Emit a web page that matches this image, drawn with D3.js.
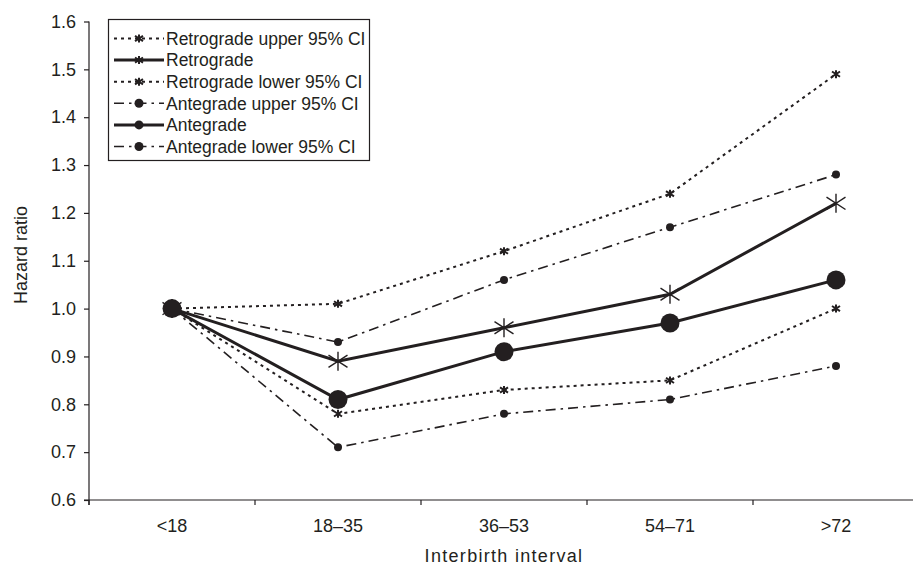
<!DOCTYPE html>
<html>
<head>
<meta charset="utf-8">
<script src="https://cdn.jsdelivr.net/npm/d3@7"></script>
<style>
  body { margin: 0; background: #fff; }
  text { font-family: "Liberation Sans", Arial, sans-serif; fill: #231f20; }
</style>
</head>
<body>
<div id="chart"></div>
<script>
// Data
let categories = ["<18", "18–35", "36–53", "54–71", ">72"];
let retroUpper = [1.00, 1.01, 1.12, 1.24, 1.49];
let retro      = [1.00, 0.89, 0.96, 1.03, 1.22];
let retroLower = [1.00, 0.78, 0.83, 0.85, 1.00];
let anteUpper  = [1.00, 0.93, 1.06, 1.17, 1.28];
let ante       = [1.00, 0.81, 0.91, 0.97, 1.06];
let anteLower  = [1.00, 0.71, 0.78, 0.81, 0.88];
let yTicks = [0.6, 0.7, 0.8, 0.9, 1.0, 1.1, 1.2, 1.3, 1.4, 1.5, 1.6];

let series = [
  { name: "Retrograde upper 95% CI", values: retroUpper, kind: "retroCI" },
  { name: "Retrograde", values: retro, kind: "retro" },
  { name: "Retrograde lower 95% CI", values: retroLower, kind: "retroCI" },
  { name: "Antegrade upper 95% CI", values: anteUpper, kind: "anteCI" },
  { name: "Antegrade", values: ante, kind: "ante" },
  { name: "Antegrade lower 95% CI", values: anteLower, kind: "anteCI" }
];

// styles per kind
let styles = {
  retroCI: { dash: "3,4", width: 2, marker: "star", size: 4, legendSize: 4 },
  retro:   { dash: null, width: 3, marker: "star", size: 9.5, legendSize: 4 },
  anteCI:  { dash: "10,5,2.5,5", width: 1.6, marker: "dot", size: 4, legendSize: 4.5 },
  ante:    { dash: null, width: 3, marker: "dot", size: 9.5, legendSize: 4.5 }
};

let ink = "#231f20";
let W = 913, H = 568;

let svg = d3.select("#chart").append("svg")
  .attr("width", W)
  .attr("height", H);

// Scales
let x = d3.scaleBand()
  .domain(categories)
  .range([89, 919])
  .padding(0);

let y = d3.scaleLinear()
  .domain([0.6, 1.6])
  .range([500, 21.5]);

let cx = d => x(d) + x.bandwidth() / 2;

// y axis
let yAxis = d3.axisLeft(y)
  .tickValues(yTicks)
  .tickSize(5)
  .tickPadding(8)
  .tickFormat(d3.format(".1f"));

let yAxisEl = svg.append("g")
  .attr("transform", "translate(89,0)")
  .call(yAxis);
yAxisEl.select(".domain").attr("d", "M0,21.5V505");

// x axis with ticks at band edges
let xAxisEl = svg.append("g")
  .attr("transform", "translate(0,500)");
xAxisEl.append("line")
  .attr("x1", 84).attr("x2", 919)
  .attr("stroke", ink).attr("stroke-width", 1.2);
xAxisEl.selectAll(".xt")
  .data(categories)
  .join("line")
  .attr("class", "xt")
  .attr("x1", d => x(d)).attr("x2", d => x(d))
  .attr("y1", 0).attr("y2", 5)
  .attr("stroke", ink).attr("stroke-width", 1.2);
xAxisEl.selectAll(".xl")
  .data(categories)
  .join("text")
  .attr("class", "xl")
  .attr("x", d => cx(d))
  .attr("y", 32)
  .attr("text-anchor", "middle")
  .style("font-size", "18px")
  .text(d => d);

yAxisEl.selectAll(".domain, .tick line").attr("stroke", ink).attr("stroke-width", 1.2);
yAxisEl.selectAll(".tick text").style("font-size", "18px").attr("fill", ink);

// Axis titles
svg.append("text")
  .attr("x", 504)
  .attr("y", 562)
  .attr("text-anchor", "middle")
  .style("font-size", "18px")
  .style("letter-spacing", "1.3px")
  .text("Interbirth interval");

svg.append("text")
  .attr("transform", "translate(27,255) rotate(-90)")
  .attr("text-anchor", "middle")
  .style("font-size", "18px")
  .text("Hazard ratio");

// marker helper
function drawMarker(g, type, px, py, r) {
  if (type === "dot") {
    g.append("circle").attr("cx", px).attr("cy", py).attr("r", r).attr("fill", ink);
  } else {
    let w = r <= 5 ? 2 : 1.4;
    let dy = r * 0.65;
    let p = d3.path();
    p.moveTo(px, py - r); p.lineTo(px, py + r);
    p.moveTo(px - r, py - dy); p.lineTo(px + r, py + dy);
    p.moveTo(px - r, py + dy); p.lineTo(px + r, py - dy);
    g.append("path").attr("d", p.toString()).attr("stroke", ink)
      .attr("stroke-width", w).attr("fill", "none");
  }
}

let line = d3.line()
  .x((d, i) => cx(categories[i]))
  .y(d => y(d));

// CI lines first, main lines on top
let order = [0, 2, 3, 5, 1, 4];
let plot = svg.append("g");
order.forEach(function(k) {
  let s = series[k];
  let st = styles[s.kind];
  let g = plot.append("g");
  g.append("path")
    .datum(s.values)
    .attr("d", line)
    .attr("fill", "none")
    .attr("stroke", ink)
    .attr("stroke-width", st.width)
    .attr("stroke-dasharray", st.dash);
  s.values.forEach(function(v, i) {
    drawMarker(g, st.marker, cx(categories[i]), y(v), st.size);
  });
});

// Legend
let legend = svg.append("g");
legend.append("rect")
  .attr("x", 108.5).attr("y", 19.5)
  .attr("width", 261).attr("height", 141)
  .attr("fill", "#fff")
  .attr("stroke", ink)
  .attr("stroke-width", 1.2);

series.forEach(function(s, i) {
  let st = styles[s.kind];
  let ly = 38.5 + i * 21.6;
  let row = legend.append("g");
  row.append("line")
    .attr("x1", 114).attr("x2", 164)
    .attr("y1", ly).attr("y2", ly)
    .attr("stroke", ink)
    .attr("stroke-width", st.width)
    .attr("stroke-dasharray", st.dash);
  drawMarker(row, st.marker, 139, ly, st.legendSize);
  row.append("text")
    .attr("x", 166)
    .attr("y", ly)
    .attr("dy", "0.36em")
    .style("font-size", "17.5px")
    .text(s.name);
});
</script>
</body>
</html>
